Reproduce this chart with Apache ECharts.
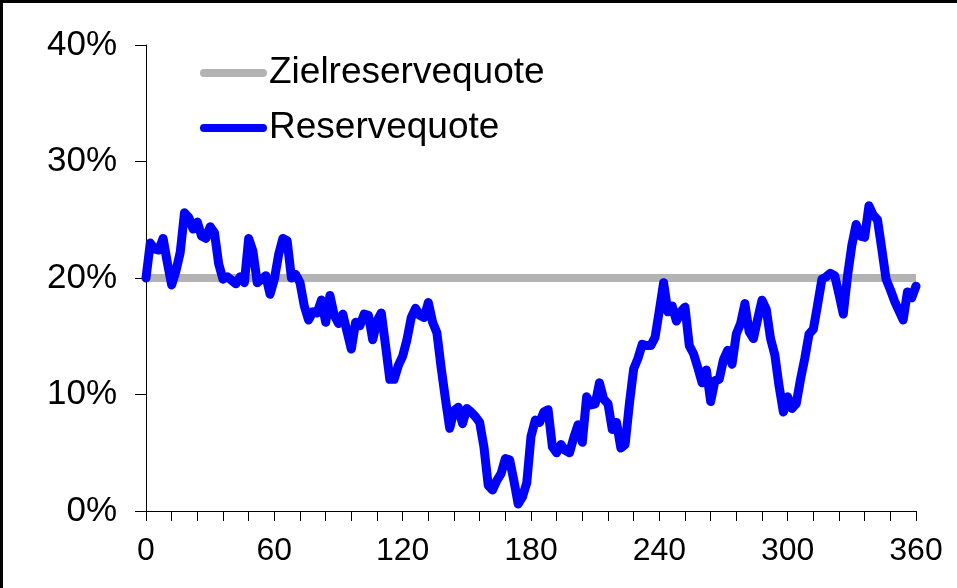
<!DOCTYPE html>
<html>
<head>
<meta charset="utf-8">
<script src="https://cdn.jsdelivr.net/npm/echarts@6/dist/echarts.min.js"></script>
<style>
    html, body { margin: 0; padding: 0; background: #fff; }
    #chart { width: 957px; height: 588px; }
    #frame {
        position: absolute; left: 0; top: 0; width: 954px; height: 585px;
        border-top: 3px solid #000; border-left: 3px solid #000; pointer-events: none;
    }
</style>
</head>
<body>
<div id="chart"></div>
<div id="frame"></div>
<script>
// months (x), step 2
const months = [
    0, 2, 4, 6, 8, 10, 12, 14, 16, 18, 20, 22, 24, 26, 28, 30, 32, 34, 36, 38,
    40, 42, 44, 46, 48, 50, 52, 54, 56, 58, 60, 62, 64, 66, 68, 70, 72, 74, 76, 78,
    80, 82, 84, 86, 88, 90, 92, 94, 96, 98, 100, 102, 104, 106, 108, 110, 112, 114, 116, 118,
    120, 122, 124, 126, 128, 130, 132, 134, 136, 138, 140, 142, 144, 146, 148, 150, 152, 154, 156, 158,
    160, 162, 164, 166, 168, 170, 172, 174, 176, 178, 180, 182, 184, 186, 188, 190, 192, 194, 196, 198,
    200, 202, 204, 206, 208, 210, 212, 214, 216, 218, 220, 222, 224, 226, 228, 230, 232, 234, 236, 238,
    240, 242, 244, 246, 248, 250, 252, 254, 256, 258, 260, 262, 264, 266, 268, 270, 272, 274, 276, 278,
    280, 282, 284, 286, 288, 290, 292, 294, 296, 298, 300, 302, 304, 306, 308, 310, 312, 314, 316, 318,
    320, 322, 324, 326, 328, 330, 332, 334, 336, 338, 340, 342, 344, 346, 348, 350, 352, 354, 356, 358,
    360
];
// Reservequote in %
const reserveQuote = [
    20.0, 23.0, 22.5, 22.4, 23.4, 21.3, 19.4, 20.6, 22.2, 25.6, 25.2, 24.2, 24.8, 23.6, 23.4, 24.4, 23.9, 21.2, 19.9, 20.1,
    19.8, 19.5, 20.1, 19.6, 23.4, 22.3, 19.6, 19.9, 20.2, 18.6, 19.9, 22.0, 23.4, 23.2, 20.0, 20.3, 19.6, 17.6, 16.4, 17.1,
    17.0, 18.1, 16.2, 18.5, 16.8, 16.1, 16.9, 15.4, 13.9, 16.2, 15.9, 16.9, 16.8, 14.7, 16.3, 17.0, 14.2, 11.3, 11.3, 12.5,
    13.3, 14.7, 16.6, 17.4, 16.8, 16.6, 17.9, 16.2, 15.3, 12.3, 9.6, 7.1, 8.6, 8.9, 7.5, 8.8, 8.5, 8.1, 7.6, 5.5,
    2.2, 1.8, 2.6, 3.2, 4.5, 4.4, 2.6, 0.6, 1.2, 2.4, 6.4, 7.8, 7.6, 8.5, 8.7, 5.5, 5.0, 5.7, 5.2, 5.0,
    6.3, 7.4, 5.9, 9.8, 9.1, 9.2, 11.0, 9.6, 9.2, 7.0, 7.6, 5.4, 5.7, 9.2, 12.2, 13.1, 14.3, 14.2, 14.2, 14.9,
    17.2, 19.6, 17.1, 17.6, 16.3, 17.1, 17.5, 14.2, 13.5, 12.3, 11.0, 12.1, 9.4, 11.2, 11.3, 13.0, 13.8, 12.6, 15.2, 16.1,
    17.8, 15.4, 14.8, 16.5, 18.1, 17.3, 14.8, 13.4, 10.7, 8.5, 9.8, 8.8, 9.2, 11.3, 13.1, 15.2, 15.6, 17.7, 19.9, 20.1,
    20.4, 20.2, 18.6, 16.9, 20.2, 22.8, 24.6, 23.6, 23.5, 26.2, 25.4, 25.0, 22.5, 19.9, 19.0, 18.0, 17.2, 16.4, 18.8, 18.3,
    19.3
];
// Zielreservequote in %
const targetMonths = [0, 360];
const targetQuote = [20, 20];
const yTicks = [0, 10, 20, 30, 40];
const xLabels = [0, 60, 120, 180, 240, 300, 360];

const chart = echarts.init(document.getElementById('chart'));
const font = 'Liberation Sans, Arial, sans-serif';
const lineIcon = 'path://M4,0 L63,0 A4,4 0 0 1 63,8 L4,8 A4,4 0 0 1 4,0 Z';

chart.setOption({
    animation: false,
    backgroundColor: '#fff',
    grid: { left: 146, right: 41, top: 45, bottom: 77 },
    legend: {
        orient: 'vertical',
        left: 195,
        top: 48,
        itemWidth: 67,
        itemHeight: 8,
        itemGap: 15,
        icon: lineIcon,
        textStyle: { fontFamily: font, fontSize: 37, color: '#000', padding: [0, 0, 0, -3], lineHeight: 40 },
        data: ['Zielreservequote', 'Reservequote'],
    },
    xAxis: {
        type: 'value',
        min: 0,
        max: 360,
        interval: 12,
        axisLine: { lineStyle: { color: '#000', width: 1 } },
        axisTick: { length: 10, lineStyle: { color: '#000' } },
        splitLine: { show: false },
        axisLabel: {
            margin: 24,
            fontFamily: font,
            fontSize: 32,
            color: '#000',
            formatter: (v) => (xLabels.indexOf(v) >= 0 ? String(v) : ''),
        },
    },
    yAxis: {
        type: 'value',
        min: yTicks[0],
        max: yTicks[yTicks.length - 1],
        interval: 10,
        axisLine: { show: true, lineStyle: { color: '#000', width: 1 } },
        axisTick: { show: true, length: 11, lineStyle: { color: '#000' } },
        splitLine: { show: false },
        axisLabel: { margin: 29, fontFamily: font, fontSize: 35, color: '#000', formatter: '{value}%' },
    },
    series: [
        {
            name: 'Zielreservequote',
            type: 'line',
            symbol: 'none',
            color: '#b3b3b3',
            lineStyle: { width: 8, color: '#b3b3b3' },
            data: targetMonths.map((m, i) => [m, targetQuote[i]]),
            z: 2,
        },
        {
            name: 'Reservequote',
            type: 'line',
            symbol: 'none',
            color: '#0000ff',
            lineStyle: { width: 9, color: '#0000ff', cap: 'round', join: 'round' },
            data: months.map((m, i) => [m, reserveQuote[i]]),
            z: 3,
        },
    ],
});
</script>
</body>
</html>
